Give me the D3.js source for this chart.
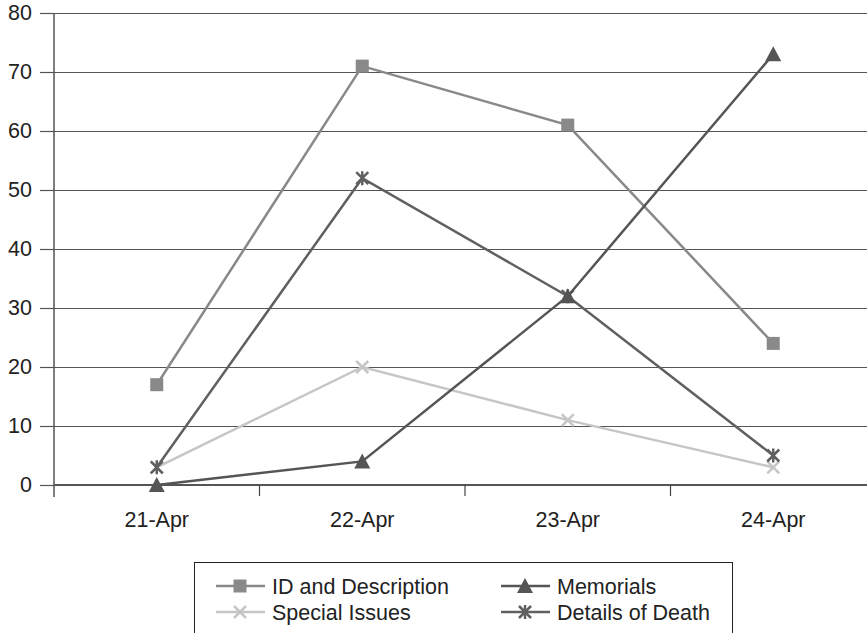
<!DOCTYPE html>
<html><head><meta charset="utf-8">
<script src="https://cdn.jsdelivr.net/npm/d3@7"></script>
<style>body{margin:0;background:#fff}svg{display:block}text{font-family:"Liberation Sans",Arial,sans-serif;fill:#222}</style>
</head><body>
<svg id="c" width="867" height="633"></svg>
<script>
const categories = ["21-Apr","22-Apr","23-Apr","24-Apr"];
const seriesNames = ["ID and Description","Memorials","Special Issues","Details of Death"];
const idDescription = [17,71,61,24];
const memorials = [0,4,32,73];
const specialIssues = [3,20,11,3];
const detailsOfDeath = [3,52,32,5];
const yTicks = [0,10,20,30,40,50,60,70,80];

(function(){
const FS = "21.5px";
const series = [
  {name:seriesNames[0], values:idDescription, color:"#898989", marker:"square"},
  {name:seriesNames[1], values:memorials, color:"#555555", marker:"triangle"},
  {name:seriesNames[2], values:specialIssues, color:"#c6c6c6", marker:"x"},
  {name:seriesNames[3], values:detailsOfDeath, color:"#606060", marker:"star"}
];
const drawOrder = [0,2,3,1];

const svg = d3.select("#c");
const mLeft = 54, mTop = 13, mBottom = 485, mRight = 876;
const x = d3.scaleBand().domain(categories).range([mLeft,mRight]);
const y = d3.scaleLinear().domain([0,80]).range([mBottom,mTop]);

svg.append("g").selectAll("line").data(yTicks.filter(d=>d>0)).join("line")
  .attr("x1",mLeft).attr("x2",867).attr("y1",d=>y(d)).attr("y2",d=>y(d))
  .attr("stroke","#555").attr("stroke-width",1).attr("shape-rendering","crispEdges");

const ya = svg.append("g").attr("transform",`translate(${mLeft},0)`)
  .call(d3.axisLeft(y).tickValues(yTicks).tickSize(14).tickPadding(8));
ya.select(".domain").remove();
ya.selectAll(".tick line").attr("stroke","#555").attr("stroke-width",1.2);
ya.selectAll("text").style("font-size",FS).attr("fill","#222");
svg.append("line").attr("x1",mLeft).attr("x2",mLeft).attr("y1",mTop).attr("y2",mBottom+12)
  .attr("stroke","#555").attr("stroke-width",1.5);

svg.append("line").attr("x1",mLeft).attr("x2",867).attr("y1",mBottom).attr("y2",mBottom)
  .attr("stroke","#555").attr("stroke-width",2);
const bounds = categories.slice(1).map(c=>x(c));
svg.append("g").selectAll("line").data(bounds).join("line")
  .attr("x1",d=>d).attr("x2",d=>d).attr("y1",mBottom).attr("y2",mBottom+11)
  .attr("stroke","#444").attr("stroke-width",1.2);
svg.append("g").selectAll("text").data(categories).join("text")
  .attr("x",d=>x(d)+x.bandwidth()/2).attr("y",mBottom+42)
  .attr("text-anchor","middle").style("font-size",FS).text(d=>d);

function marker(g, type, color, cx, cy){
  if(type==="square"){
    g.append("rect").attr("x",cx-6.5).attr("y",cy-6.5).attr("width",13).attr("height",13).attr("fill",color);
  } else if(type==="triangle"){
    g.append("path").attr("d",`M${cx},${cy-8}L${cx+8},${cy+7}L${cx-8},${cy+7}Z`).attr("fill",color);
  } else if(type==="x"){
    g.append("path").attr("d",`M${cx-6},${cy-6}L${cx+6},${cy+6}M${cx-6},${cy+6}L${cx+6},${cy-6}`)
      .attr("stroke",color).attr("stroke-width",2.5);
  } else {
    g.append("path").attr("d",`M${cx-6},${cy-6}L${cx+6},${cy+6}M${cx-6},${cy+6}L${cx+6},${cy-6}M${cx},${cy-7}L${cx},${cy+7}`)
      .attr("stroke",color).attr("stroke-width",2.5);
  }
}

const line = d3.line().x((d,i)=>x(categories[i])+x.bandwidth()/2).y(d=>y(d));
drawOrder.forEach(k=>{
  const s = series[k];
  const g = svg.append("g");
  g.append("path").datum(s.values).attr("d",line).attr("fill","none")
    .attr("stroke",s.color).attr("stroke-width",2.5);
  s.values.forEach((v,i)=>marker(g,s.marker,s.color,x(categories[i])+x.bandwidth()/2,y(v)));
});

const lg = svg.append("g");
lg.append("rect").attr("x",194.5).attr("y",562.5).attr("width",538).attr("height",80)
  .attr("fill","none").attr("stroke","#222").attr("stroke-width",1);
const legendPos = [[0,0],[1,0],[0,1],[1,1]];
series.forEach((s,k)=>{
  const [c,r] = legendPos[k];
  const lx = 216 + c*285, ly = 586 + r*26;
  const g = lg.append("g");
  g.append("line").attr("x1",lx).attr("x2",lx+49).attr("y1",ly).attr("y2",ly)
    .attr("stroke",s.color).attr("stroke-width",2.5);
  marker(g,s.marker,s.color,lx+24,ly);
  g.append("text").attr("x",lx+56).attr("y",ly+7.5).style("font-size",FS).text(s.name);
});
})();
</script>
</body></html>
